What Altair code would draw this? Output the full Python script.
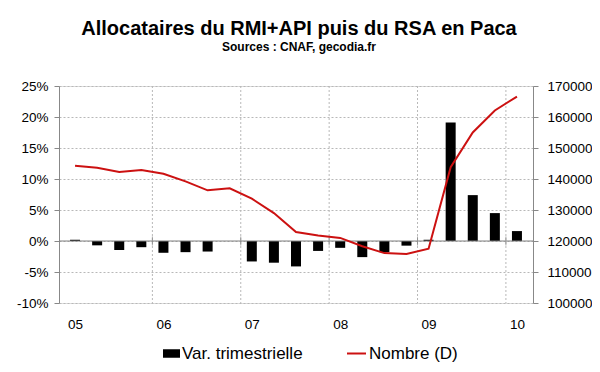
import altair as alt
import pandas as pd

FONT = "Liberation Sans"

# ---- data ----
years = ["05", "06", "07", "08", "09", "10"]
series_names = ["Var. trimestrielle", "Nombre (D)"]
var_trim = [0.2, -0.7, -1.45, -1.0, -1.9, -1.8, -1.7, 0.0, -3.3, -3.5, -4.1,
            -1.6, -1.1, -2.6, -1.8, -0.75, 0.2, 19.1, 7.4, 4.5, 1.6]
nombre = [144300, 143650, 142260, 142900, 141700, 139250, 136340, 137000,
          133650, 129000, 122900, 121800, 121000, 118300, 116100, 115800,
          117500, 143800, 155000, 162100, 166600]
left_ticks = [-10, -5, 0, 5, 10, 15, 20, 25]
right_ticks = [100000, 110000, 120000, 130000, 140000, 150000, 160000, 170000]

n = len(var_trim)
df = pd.DataFrame({
    "i": list(range(n)),
    "var": var_trim,
    "nombre": nombre,
    "s_bar": series_names[0],
    "s_line": series_names[1],
})
year_pos = [4 * k for k in range(len(years))]
bounds = pd.DataFrame({"b": [p - 0.5 for p in year_pos[1:]]})
zero_df = pd.DataFrame({"z": [0]})

year_array = "[" + ",".join("'%s'" % y for y in years) + "]"

x_scale = alt.Scale(domain=[-0.5, n - 0.5], nice=False, zero=False)
x_axis = alt.Axis(values=year_pos, labelExpr=year_array + "[round(datum.value/4)]",
                  domain=False, ticks=False, tickSize=0, grid=False, title=None,
                  labelFontSize=13.5, labelPadding=14, labelAngle=0)

yl_scale = alt.Scale(domain=[left_ticks[0], left_ticks[-1]], nice=False, zero=False)
yl_axis = alt.Axis(values=left_ticks, labelExpr="datum.value + '%'", title=None,
                   grid=True, gridDash=[2, 2], gridColor="#b8b8b8", gridWidth=1,
                   tickSize=5, labelPadding=6, labelFontSize=13.5)

yr_scale = alt.Scale(domain=[right_ticks[0], right_ticks[-1]], nice=False, zero=False)
yr_axis = alt.Axis(values=right_ticks, format="d", title=None, grid=False,
                   orient="right", tickSize=5, labelPadding=9, labelFontSize=13.5)

vgrid = alt.Chart(bounds).mark_rule(color="#b8b8b8", strokeDash=[2, 2], strokeWidth=1).encode(
    x=alt.X("b:Q", scale=x_scale, axis=x_axis)
)

bars = alt.Chart(df).mark_bar(size=10).encode(
    x=alt.X("i:Q", scale=x_scale, axis=x_axis),
    y=alt.Y("var:Q", scale=yl_scale, axis=yl_axis),
    fill=alt.Fill("s_bar:N",
                  scale=alt.Scale(domain=[series_names[0]], range=["#000000"]),
                  legend=alt.Legend(orient="none", legendX=104, legendY=259, title=None,
                                    symbolType="M-1,-0.5H1V0.5H-1Z", symbolSize=289,
                                    symbolStrokeWidth=0,
                                    labelFontSize=17, labelFont=FONT, labelOffset=2,
                                    labelColor="#000000")),
)

zero_line = alt.Chart(zero_df).mark_rule(color="#808080", strokeWidth=1).encode(
    y=alt.Y("z:Q", scale=yl_scale, axis=yl_axis)
)

zero_ticks = alt.Chart(bounds).transform_calculate(z="0").mark_tick(
    color="#808080", orient="vertical", size=9, thickness=1
).encode(
    x=alt.X("b:Q", scale=x_scale, axis=x_axis),
    y=alt.Y("z:Q", scale=yl_scale, axis=yl_axis),
)

left = alt.layer(vgrid, bars, zero_line, zero_ticks)

line = alt.Chart(df).mark_line(strokeWidth=2).encode(
    x=alt.X("i:Q", scale=x_scale, axis=x_axis),
    y=alt.Y("nombre:Q", scale=yr_scale, axis=yr_axis),
    stroke=alt.Stroke("s_line:N",
                      scale=alt.Scale(domain=[series_names[1]], range=["#cc1111"]),
                      legend=alt.Legend(orient="none", legendX=287, legendY=257, title=None,
                                        symbolType="stroke", symbolSize=361,
                                        symbolStrokeWidth=2,
                                        labelFontSize=17, labelFont=FONT, labelOffset=2,
                                        labelColor="#000000")),
)

chart = alt.layer(left, line).resolve_scale(
    y="independent"
).properties(
    width=474,
    height=217,
    autosize=alt.AutoSizeParams(type="none"),
    padding={"left": 51, "top": 78, "right": 59, "bottom": 61},
    title=alt.Title(
        "Allocataires du RMI+API puis du RSA en Paca",
        subtitle="Sources : CNAF, gecodia.fr",
        anchor="middle",
        frame="group",
        font=FONT,
        fontSize=20,
        fontWeight="bold",
        color="#000000",
        subtitleFont=FONT,
        subtitleFontSize=12,
        subtitleFontWeight="bold",
        subtitleColor="#000000",
        subtitlePadding=3,
        offset=26,
        dx=3,
    ),
).configure_view(
    stroke=None
).configure_axis(
    labelFont=FONT,
    labelColor="#000000",
    domainColor="#808080",
    tickColor="#808080",
).configure(background="#ffffff")

chart.save("out.html", embed_options={"renderer": "svg", "actions": False})
